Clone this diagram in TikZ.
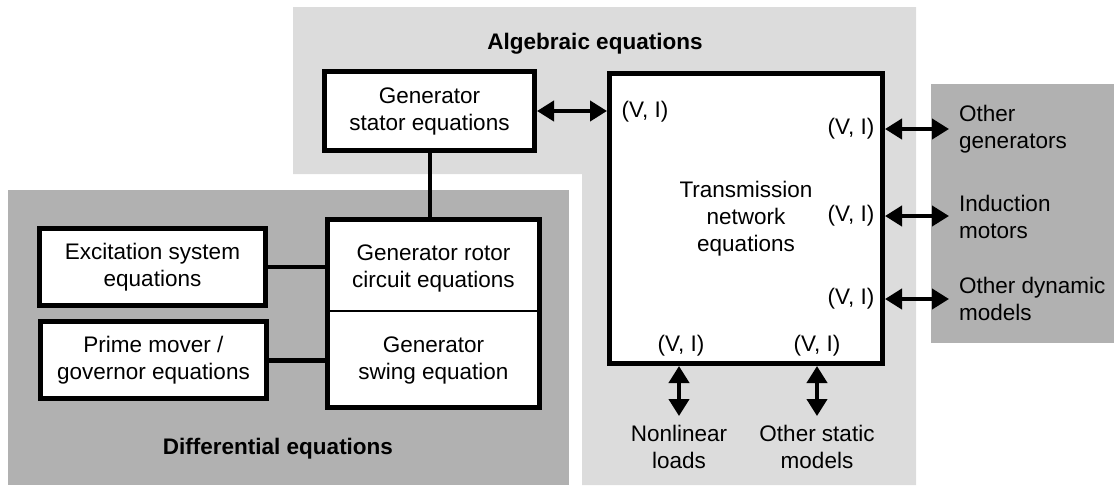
\documentclass[tikz,border=0pt]{standalone}
\usepackage{fontspec}
\setmainfont{Liberation Sans}
\usetikzlibrary{arrows.meta}
\definecolor{alggray}{RGB}{220,220,220}
\definecolor{diffgray}{RGB}{177,177,177}
\begin{document}
\begin{tikzpicture}[x=1pt,y=-1pt,
  txt/.style={font=\fontsize{22.5}{27}\selectfont, align=center, inner sep=0pt},
  eqbox/.style={txt, draw, line width=5pt, fill=white},
  title/.style={txt, font=\fontsize{22.5}{27}\selectfont\bfseries},
  link/.style={line width=4pt},
  biarrow/.style={line width=4pt, {Triangle[width=20pt,length=17pt]}-{Triangle[width=20pt,length=17pt]}},
]
\useasboundingbox (0,0) rectangle (1114,485);
% background regions
\fill[alggray] (293,7) -- (916,7) -- (916,485) -- (582,485) -- (582,174) -- (293,174) -- cycle;
\fill[diffgray] (8,190) rectangle (569,485);
\fill[diffgray] (931,84) rectangle (1114,343);

% titles
\node[title] (alg) at (595,44) {Algebraic equations};
\node[title] (dif) at (278,449) {Differential equations};

% boxes
\node[eqbox, minimum width=210pt, minimum height=79pt] (stator) at (429.5,111) {Generator\\stator equations};
\node[eqbox, minimum width=273pt, minimum height=290pt] (trans) at (746,218.5) {Transmission\\network\\equations};
\node[draw, line width=5pt, fill=white, minimum width=212pt, minimum height=188pt] (gen) at (433.5,313.5) {};
\node[txt] (rotor) at (433.5,268) {Generator rotor\\circuit equations};
\node[txt] (swing) at (433.5,360) {Generator\\swing equation};
\coordinate (divider) at (433.5,311);
\draw[line width=1.5pt] (gen.west |- divider) -- (gen.east |- divider);
\node[eqbox, minimum width=226pt, minimum height=77pt] (exc) at (152.5,267) {Excitation system\\equations};
\node[eqbox, minimum width=226pt, minimum height=77pt] (pm) at (153.5,360) {Prime mover /\\governor equations};

% connectors
\draw[line width=3.5pt] (exc.east) -- (exc.east -| gen.west);
\draw[line width=5pt] (pm.east) -- (pm.east -| gen.west);
\draw[link] (stator.south) -- (stator.south |- gen.north);
\draw[biarrow] (stator.east) -- (stator.east -| trans.west);

% (V, I) labels
\node[txt] (vil) at (645,112) {(V, I)};
\node[txt] (vir1) at (851,129) {(V, I)};
\node[txt] (vir2) at (851,216) {(V, I)};
\node[txt] (vir3) at (851,299) {(V, I)};
\node[txt] (vib1) at (681,346) {(V, I)};
\node[txt] (vib2) at (817,346) {(V, I)};

% right labels
\node[txt, align=left, anchor=west] (ogen) at (959,129) {Other\\generators};
\node[txt, align=left, anchor=west] (imot) at (959,217) {Induction\\motors};
\node[txt, align=left, anchor=west] (odyn) at (959,299) {Other dynamic\\models};
\draw[biarrow] (trans.east |- vir1) -- ([xshift=-10pt]ogen.west |- vir1);
\draw[biarrow] (trans.east |- vir2) -- ([xshift=-10pt]imot.west |- vir2);
\draw[biarrow] (trans.east |- vir3) -- ([xshift=-10pt]odyn.west |- vir3);

% bottom labels
\node[txt] (nll) at (679,447) {Nonlinear\\loads};
\node[txt] (osm) at (817,447) {Other static\\models};
\draw[biarrow] (nll.north |- trans.south) -- ([yshift=9pt]nll.north);
\draw[biarrow] (osm.north |- trans.south) -- ([yshift=9pt]osm.north);
\end{tikzpicture}
\end{document}
